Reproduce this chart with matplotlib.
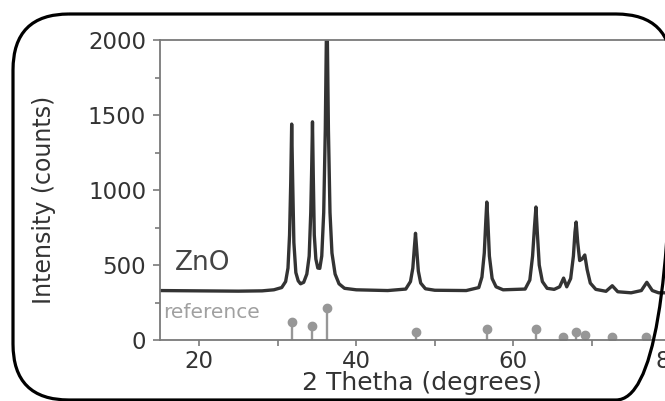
import matplotlib
matplotlib.use("Agg")
import matplotlib.pyplot as plt
from matplotlib.patches import FancyBboxPatch

# ZnO diffractogram, points (2 theta [deg], counts)
theta = [15, 20, 25, 28, 29.5, 30.5, 31.0, 31.3, 31.5, 31.65, 31.77, 31.9, 32.05, 32.3, 32.6, 32.9,
         33.3, 33.7, 34.0, 34.2, 34.32, 34.42, 34.52, 34.65, 34.85, 35.1, 35.35, 35.6, 35.85, 36.05,
         36.25, 36.45, 36.65, 36.9, 37.3, 37.8, 38.5, 40, 44, 46.3, 46.9, 47.2, 47.4, 47.54, 47.7,
         47.9, 48.2, 48.8, 50, 54, 55.6, 56.0, 56.3, 56.5, 56.62, 56.75, 56.95, 57.3, 57.8, 58.7,
         61.5, 62.1, 62.45, 62.7, 62.88, 63.05, 63.3, 63.7, 64.3, 65.2, 65.9, 66.4, 66.8, 67.3,
         67.65, 67.85, 68.0, 68.2, 68.45, 68.75, 69.1, 69.4, 69.8, 70.5, 71.8, 72.6, 73.3, 75.0,
         76.3, 77.0, 77.7, 78.5, 83]
counts = [330, 328, 326, 328, 335, 350, 390, 480, 700, 1050, 1440, 1050, 650, 450, 395, 375,
          385, 440, 560, 850, 1150, 1455, 1100, 700, 540, 480, 478, 560, 850, 1400,
          2300, 1400, 850, 580, 440, 375, 345, 335, 330, 340, 390, 480, 620, 712, 600,
          460, 380, 342, 332, 330, 350, 420, 580, 800, 920, 800, 560, 410, 355, 335,
          340, 400, 560, 760, 887, 720, 500, 390, 345, 338, 355, 413, 355, 410,
          560, 720, 787, 650, 530, 540, 567, 470, 380, 338, 325, 362, 322, 315,
          330, 385, 330, 315, 315]

# reference pattern sticks
ref_theta = [31.77, 34.42, 36.25, 47.54, 56.6, 62.86, 66.38, 67.96, 69.1, 72.56, 76.95]
ref_counts = [120, 93, 213, 53, 73, 73, 20, 53, 33, 20, 20]

x_ticks = [20, 40, 60, 80]
y_ticks = [0, 500, 1000, 1500, 2000]

fig = plt.figure(figsize=(6.65, 4.01), dpi=100)
ax = fig.add_axes([0.2406, 0.152, 0.797, 0.748])

ax.plot(theta, counts, color="#333333", lw=2.4, solid_joinstyle="round")
ax.vlines(ref_theta, 0, ref_counts, color="#979797", lw=1.7)
ax.plot(ref_theta, ref_counts, "o", color="#979797", ms=6)

ax.text(16.9, 467, "ZnO", fontsize=19, color="#444444")
ax.text(15.4, 147, "reference", fontsize=14.5, color="#a0a0a0")

ax.set_xlim(15, 82.5)
ax.set_ylim(0, 2000)
ax.set_xticks(x_ticks)
ax.set_xticks([30, 50, 70], minor=True)
ax.set_yticks(y_ticks)
ax.set_yticks([250, 750, 1250, 1750], minor=True)

for s in ax.spines.values():
    s.set_color("#7a7a7a")
    s.set_linewidth(1.3)
ax.tick_params(which="both", direction="out", color="#7a7a7a", width=1.2,
               labelcolor="#333333", labelsize=16.5)
ax.tick_params(axis="y", which="major", length=5, pad=5)
ax.tick_params(axis="y", which="minor", length=3.5)
ax.tick_params(axis="x", which="major", length=4, pad=3)
ax.tick_params(axis="x", which="minor", length=4)

ax.set_xlabel("2 Thetha (degrees)", fontsize=18, color="#333333")
ax.set_ylabel("Intensity (counts)", fontsize=17, color="#333333")
ax.xaxis.set_label_coords(0.494, -0.104)
ax.yaxis.set_label_coords(-0.196, 0.467)

# rounded frame around the panel, drawn on a pixel-unit overlay
over = fig.add_axes([0, 0, 1, 1])
over.set_xlim(0, 665)
over.set_ylim(401, 0)
over.axis("off")
over.add_patch(FancyBboxPatch((13, 14), 659, 386, boxstyle="round,pad=0,rounding_size=56",
                              fill=False, ec="black", lw=2.3, clip_on=False))

fig.savefig("out.png", dpi=100)
